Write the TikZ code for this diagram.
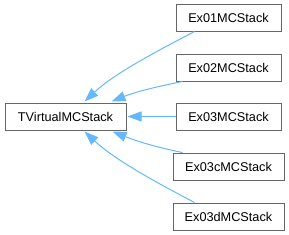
\documentclass[tikz,border=0pt]{standalone}
\usepackage{fontspec}
\setmainfont{Liberation Sans}
\usetikzlibrary{arrows.meta,calc}
\definecolor{edgeblue}{HTML}{63B8FF}
\definecolor{boxgray}{HTML}{666666}
\begin{document}
\begin{tikzpicture}[x=1pt,y=-1pt,
  cls/.style={draw=boxgray, line width=1pt, fill=white, inner sep=0pt,
    minimum height=27pt, font=\fontsize{12.7}{15}\selectfont},
  inh/.style={draw=edgeblue, line width=1pt,
    -{Triangle[length=14pt,width=10pt,fill=edgeblue]}}]
\useasboundingbox (0,0) rectangle (289,234);
\node[cls, minimum width=121pt] (p) at (65.5,116.5) {TVirtualMCStack};
\node[cls, minimum width=105pt] (a) at (228.5,17.5) {Ex01MCStack};
\node[cls, minimum width=105pt] (b) at (228.5,67.5) {Ex02MCStack};
\node[cls, minimum width=105pt] (c) at (228.5,116.5) {Ex03MCStack};
\node[cls, minimum width=111pt] (d) at (228.5,166.5) {Ex03cMCStack};
\node[cls, minimum width=111pt] (e) at (228.5,216.5) {Ex03dMCStack};
\draw[inh] ($(a.south west)+(19,0)$) .. controls +(-40,21) and +(30,-28) .. ($(p.north west)+(80,-1)$);
\draw[inh] ($(b.south west)+(7,0)$) .. controls +(-25,5) and +(25,-10) .. ($(p.north west)+(107,-1)$);
\draw[inh, shorten >=1pt] (c.west) -- (p.east);
\draw[inh] ($(d.north west)+(10,0)$) .. controls +(-25,-5) and +(25,10) .. ($(p.south west)+(108,1)$);
\draw[inh] ($(e.north west)+(22,0)$) .. controls +(-40,-21) and +(30,28) .. ($(p.south west)+(80,1)$);
\end{tikzpicture}
\end{document}
